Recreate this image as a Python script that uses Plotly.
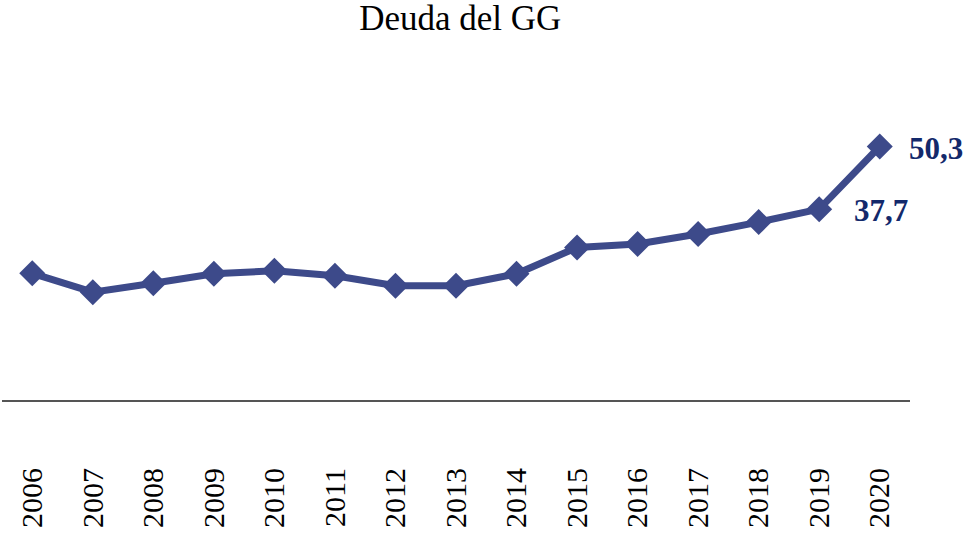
import plotly.graph_objects as go

years = ["2006", "2007", "2008", "2009", "2010", "2011", "2012", "2013",
         "2014", "2015", "2016", "2017", "2018", "2019", "2020"]
deuda = [24.8, 21.0, 22.8, 24.7, 25.3, 24.3, 22.3, 22.3,
         24.7, 30.0, 30.7, 32.7, 35.1, 37.7, 50.3]
label_years = ["2019", "2020"]
label_texts = ["37,7", "50,3"]

LINE = "#3d4a8a"
TXT = "#13296b"
FONT = "Liberation Serif"

fig = go.Figure()
fig.add_trace(go.Scatter(
    x=years, y=deuda, mode="lines+markers",
    line=dict(color=LINE, width=7),
    marker=dict(symbol="diamond", size=20, color=LINE),
    cliponaxis=False, showlegend=False, hoverinfo="x+y",
))

shifts = {"2019": (33, -1), "2020": (27, -2)}
for yr, txt in zip(label_years, label_texts):
    i = years.index(yr)
    v = deuda[i]
    dx, dy = shifts[yr]
    fig.add_annotation(
        x=i, y=v, xref="x", yref="y", text=f"<b>{txt}</b>", showarrow=False,
        xanchor="left", yanchor="middle", xshift=dx, yshift=dy,
        font=dict(family=FONT, size=31, color=TXT),
    )

fig.update_layout(
    width=967, height=538,
    margin=dict(l=2, r=57, t=60, b=138, autoexpand=False),
    paper_bgcolor="white", plot_bgcolor="white",
    title=dict(text="Deuda del GG", x=0.476, xanchor="center", y=0.967, yanchor="middle",
               font=dict(family=FONT, size=35, color="black")),
    xaxis=dict(type="category", range=[-0.5, 14.5], showline=True, linecolor="#555555",
               linewidth=2, showgrid=False, ticks="", tickangle=-90, automargin=False,
               tickfont=dict(family=FONT, size=30, color="black"),
               ticklabelstandoff=54, fixedrange=True),
    yaxis=dict(range=[-0.68, 67.7], visible=False, showgrid=False, zeroline=False,
               fixedrange=True, automargin=False),
)

fig.write_html("out.html", config={"displayModeBar": False},
               post_script="document.body.style.margin='0';document.body.style.overflow='hidden';")
